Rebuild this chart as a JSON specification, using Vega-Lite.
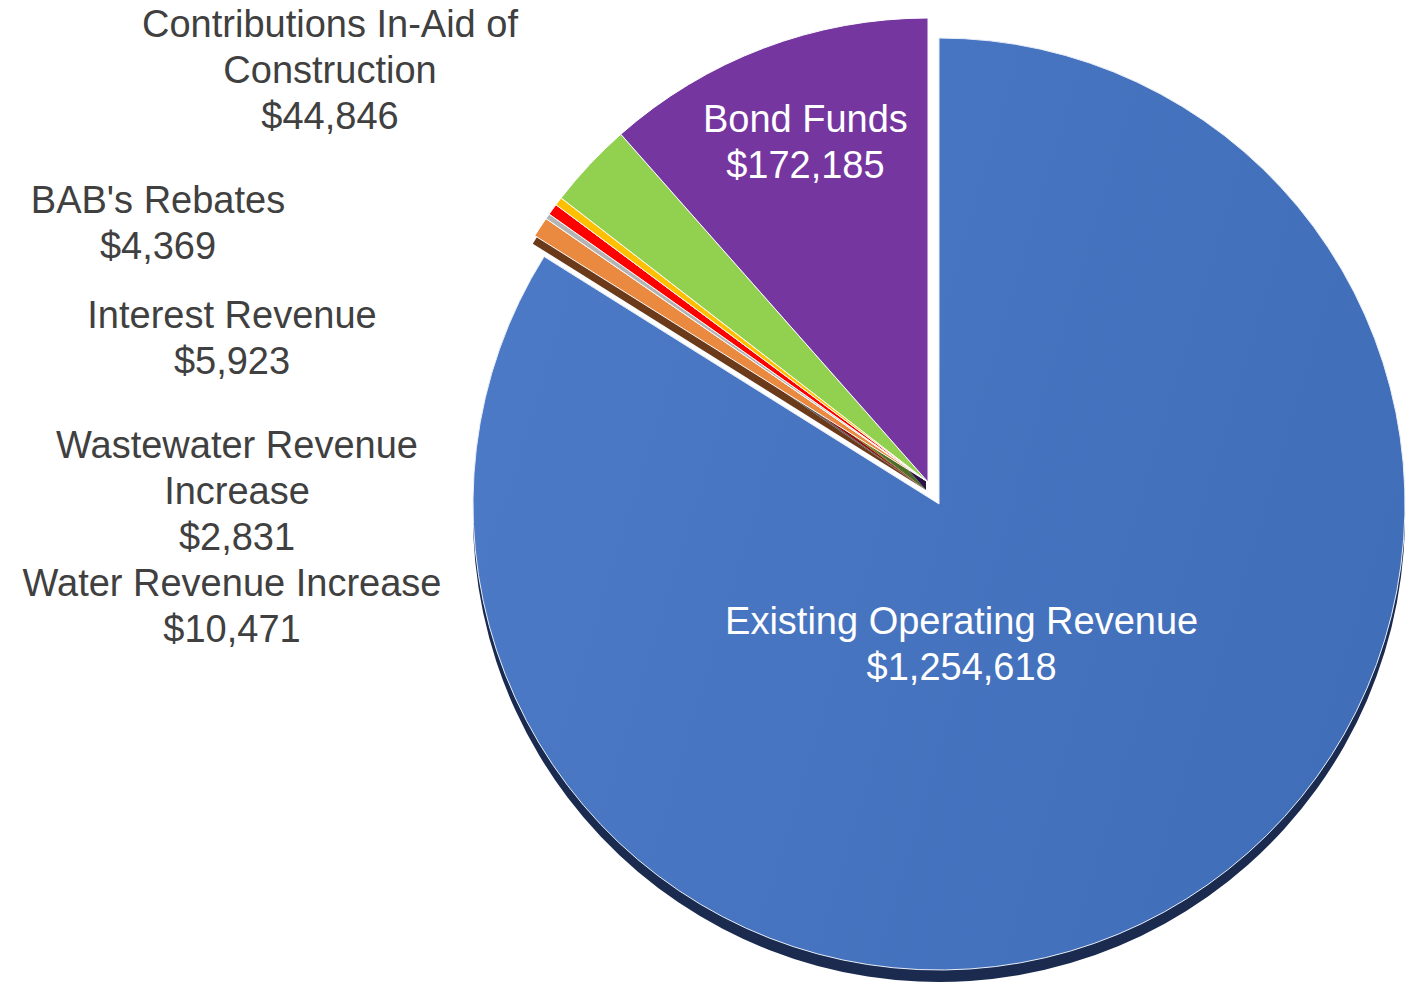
{
  "$schema": "https://vega.github.io/schema/vega-lite/v6.json",
  "width": 1407,
  "height": 983,
  "autosize": "none",
  "padding": 0,
  "background": "white",
  "config": {"view": {"stroke": null}},
  "data": {"values": [
    {"category": "Existing Operating Revenue", "value": 1254618, "i": 1, "label": "Existing Operating Revenue\n$1,254,618"},
    {"category": "Water Revenue Increase", "value": 10471, "i": 2, "label": "Water Revenue Increase\n$10,471"},
    {"category": "Wastewater Revenue Increase", "value": 2831, "i": 3, "label": "Wastewater Revenue\nIncrease\n$2,831"},
    {"category": "Interest Revenue", "value": 5923, "i": 4, "label": "Interest Revenue\n$5,923"},
    {"category": "BAB's Rebates", "value": 4369, "i": 5, "label": "BAB's Rebates\n$4,369"},
    {"category": "Contributions In-Aid of Construction", "value": 44846, "i": 6, "label": "Contributions In-Aid of\nConstruction\n$44,846"},
    {"category": "Bond Funds", "value": 172185, "i": 7, "label": "Bond Funds\n$172,185"}
  ]},
  "layer": [
    {
      "mark": {"type": "arc", "x": 926, "y": 490, "outerRadius": 464},
      "encoding": {
        "theta": {"field": "value", "type": "quantitative", "stack": true},
        "order": {"field": "i", "type": "quantitative"},
        "fill": {"field": "category", "type": "nominal", "legend": null,
          "scale": {"domain": ["Existing Operating Revenue", "Water Revenue Increase", "Wastewater Revenue Increase", "Interest Revenue", "BAB's Rebates", "Contributions In-Aid of Construction", "Bond Funds"],
                    "range": ["#1b2b50", "#6b3a1a", "#5a5a5a", "#8a1010", "#8a6a10", "#4d6e2a", "#2a1444"]}},
        "opacity": {"condition": {"test": "datum.category === 'Existing Operating Revenue'", "value": 0}, "value": 1}
      }
    },
    {
      "mark": {"type": "arc", "x": 939, "y": 516, "outerRadius": 466},
      "encoding": {
        "theta": {"field": "value", "type": "quantitative", "stack": true},
        "order": {"field": "i", "type": "quantitative"},
        "fill": {"field": "category", "type": "nominal", "legend": null},
        "opacity": {"condition": {"test": "datum.category === 'Existing Operating Revenue'", "value": 1}, "value": 0}
      }
    },
    {
      "mark": {"type": "arc", "x": 928, "y": 482, "outerRadius": 464, "stroke": "white", "strokeWidth": 1},
      "encoding": {
        "theta": {"field": "value", "type": "quantitative", "stack": true},
        "order": {"field": "i", "type": "quantitative"},
        "color": {"field": "category", "type": "nominal", "legend": null,
          "scale": {"domain": ["Existing Operating Revenue", "Water Revenue Increase", "Wastewater Revenue Increase", "Interest Revenue", "BAB's Rebates", "Contributions In-Aid of Construction", "Bond Funds"],
                    "range": ["#4472c4", "#ea8a40", "#b4b4b4", "#ff0000", "#ffc000", "#92d050", "#7536a0"]}},
        "opacity": {"condition": {"test": "datum.category === 'Existing Operating Revenue'", "value": 0}, "value": 1}
      }
    },
    {
      "mark": {"type": "arc", "x": 939, "y": 504, "outerRadius": 466, "stroke": "#e8eef8", "strokeWidth": 1,
        "fill": {"gradient": "linear", "x1": 0, "y1": 0.2, "x2": 1, "y2": 0.5,
          "stops": [{"offset": 0, "color": "#4d7ac6"}, {"offset": 1, "color": "#416eb9"}]}},
      "encoding": {
        "theta": {"field": "value", "type": "quantitative", "stack": true},
        "order": {"field": "i", "type": "quantitative"},
        "opacity": {"condition": {"test": "datum.category === 'Existing Operating Revenue'", "value": 1}, "value": 0}
      }
    },
    {
      "mark": {"type": "text", "x": 928, "y": 482, "radius": 386, "dx": 14, "font": "Liberation Sans", "fontSize": 38, "lineHeight": 46, "lineBreak": "\n", "fill": "white", "align": "center", "baseline": "middle"},
      "encoding": {
        "theta": {"field": "value", "type": "quantitative", "stack": true},
        "order": {"field": "i", "type": "quantitative"},
        "text": {"field": "label"},
        "opacity": {"condition": {"test": "datum.category === 'Bond Funds'", "value": 1}, "value": 0}
      }
    },
    {
      "mark": {"type": "text", "x": 939, "y": 504, "radius": 150, "dx": -50, "dy": -12, "font": "Liberation Sans", "fontSize": 38, "lineHeight": 46, "lineBreak": "\n", "fill": "white", "align": "center", "baseline": "middle"},
      "encoding": {
        "theta": {"field": "value", "type": "quantitative", "stack": true},
        "order": {"field": "i", "type": "quantitative"},
        "text": {"field": "label"},
        "opacity": {"condition": {"test": "datum.category === 'Existing Operating Revenue'", "value": 1}, "value": 0}
      }
    },
    {
      "transform": [{"filter": {"field": "category", "oneOf": ["Interest Revenue", "Water Revenue Increase"]}}],
      "mark": {"type": "text", "x": 232, "dy": -23, "font": "Liberation Sans", "fontSize": 38, "lineHeight": 46, "lineBreak": "\n", "fill": "#404040", "align": "center", "baseline": "middle"},
      "encoding": {
        "y": {"field": "category", "type": "nominal", "axis": null,
          "scale": {"type": "point", "padding": 0, "range": [72, 608],
            "domain": ["Contributions In-Aid of Construction", "g1", "g2", "g3", "BAB's Rebates", "g4", "g5", "Interest Revenue", "g6", "g7", "g8", "Wastewater Revenue Increase", "g9", "g10", "Water Revenue Increase"]}},
        "text": {"field": "label"}
      }
    },
    {
      "transform": [{"filter": {"field": "category", "equal": "Wastewater Revenue Increase"}}],
      "mark": {"type": "text", "x": 237, "dy": -46, "font": "Liberation Sans", "fontSize": 38, "lineHeight": 46, "lineBreak": "\n", "fill": "#404040", "align": "center", "baseline": "middle"},
      "encoding": {
        "y": {"field": "category", "type": "nominal", "axis": null},
        "text": {"field": "label"}
      }
    },
    {
      "transform": [{"filter": {"field": "category", "equal": "Contributions In-Aid of Construction"}}],
      "mark": {"type": "text", "x": 330, "dy": -46, "font": "Liberation Sans", "fontSize": 38, "lineHeight": 46, "lineBreak": "\n", "fill": "#404040", "align": "center", "baseline": "middle"},
      "encoding": {
        "y": {"field": "category", "type": "nominal", "axis": null},
        "text": {"field": "label"}
      }
    },
    {
      "transform": [{"filter": {"field": "category", "equal": "BAB's Rebates"}}],
      "mark": {"type": "text", "x": 158, "dy": -23, "font": "Liberation Sans", "fontSize": 38, "lineHeight": 46, "lineBreak": "\n", "fill": "#404040", "align": "center", "baseline": "middle"},
      "encoding": {
        "y": {"field": "category", "type": "nominal", "axis": null},
        "text": {"field": "label"}
      }
    }
  ]
}
